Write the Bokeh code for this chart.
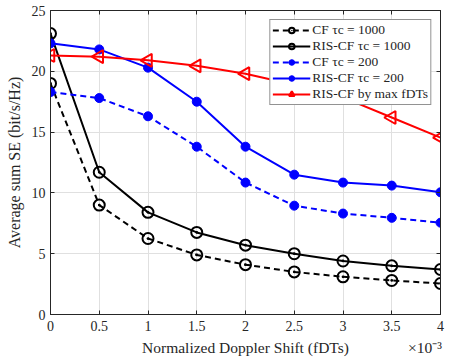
import math
from bokeh.plotting import figure
from bokeh.models import Legend, LegendItem, LinearAxis, FixedTicker, Range1d, CustomJSTickFormatter
from bokeh.embed import file_html
from bokeh.resources import INLINE

x = [0, 0.5, 1, 1.5, 2, 2.5, 3, 3.5, 4]
cf_1000 = [19.0, 9.0, 6.25, 4.9, 4.1, 3.5, 3.1, 2.8, 2.55]
ris_1000 = [23.1, 11.7, 8.4, 6.75, 5.7, 5.0, 4.4, 4.0, 3.7]
cf_200 = [18.3, 17.8, 16.3, 13.8, 10.85, 8.95, 8.3, 7.95, 7.55]
ris_200 = [22.3, 21.8, 20.3, 17.5, 13.8, 11.5, 10.85, 10.6, 10.05]
ris_max = [21.3, 21.2, 20.9, 20.45, 19.8, 18.9, 17.85, 16.2, 14.55]
labels = ["CF τc = 1000", "RIS-CF τc = 1000", "CF τc = 200", "RIS-CF τc = 200", "RIS-CF by max fDTs"]
y_ticks = [0, 5, 10, 15, 20, 25]
x_title = "Normalized Doppler Shift (fDTs)"
x_scale_note = "×10⁻³"

FONT = "Liberation Serif"
INK = "#262626"

p = figure(width=453, height=360, output_backend="svg", toolbar_location=None,
           x_range=Range1d(0, 4), y_range=Range1d(0, 25),
           min_border_left=50, min_border_right=13, min_border_top=10, min_border_bottom=46)
p.outline_line_color = INK
p.outline_line_width = 1
p.background_fill_color = "white"
p.grid.grid_line_color = "#e0e0e0"
p.grid.grid_line_width = 1
p.xgrid.ticker = FixedTicker(ticks=x)
p.ygrid.ticker = FixedTicker(ticks=y_ticks)
p.xaxis.ticker = FixedTicker(ticks=x)
p.yaxis.ticker = FixedTicker(ticks=y_ticks)
p.xaxis.major_label_overrides = {v: f"{v:g}" for v in x}
for ax in [p.xaxis[0], p.yaxis[0]]:
    ax.major_tick_in = 4
    ax.major_tick_out = 0
    ax.minor_tick_in = 0
    ax.minor_tick_out = 0
    ax.axis_line_color = INK
    ax.major_tick_line_color = INK
    ax.major_label_text_font = FONT
    ax.major_label_text_font_size = "14px"
    ax.major_label_text_color = INK
    ax.axis_label_text_font = FONT
    ax.axis_label_text_font_size = "16px"
    ax.axis_label_text_font_style = "normal"
    ax.axis_label_text_color = INK
p.yaxis.axis_label = "Average sum SE (bit/s/Hz)"
p.yaxis.axis_label_standoff = 6
p.xaxis.major_label_standoff = 6
p.yaxis.major_label_standoff = 5

# second row under the x axis: axis title (centred) and the ×10⁻³ note (right) on one line
note_pos = 3.84
x_text = LinearAxis(ticker=FixedTicker(ticks=[2, note_pos]),
                    major_label_overrides={2: x_title, note_pos: x_scale_note},
                    major_label_standoff=5, major_tick_in=0, major_tick_out=0,
                    minor_tick_in=0, minor_tick_out=0,
                    axis_line_color=None, major_tick_line_color=None,
                    major_label_text_font=FONT, major_label_text_font_size="15.5px",
                    major_label_text_color=INK)
p.add_layout(x_text, "below")

top = LinearAxis(ticker=FixedTicker(ticks=x), formatter=CustomJSTickFormatter(code="return ''"),
                 major_label_standoff=0,
                 major_tick_in=4, major_tick_out=0, minor_tick_in=0, minor_tick_out=0,
                 axis_line_color=INK, major_tick_line_color=INK)
right = LinearAxis(ticker=FixedTicker(ticks=y_ticks), formatter=CustomJSTickFormatter(code="return ''"),
                   major_label_standoff=0,
                   major_tick_in=4, major_tick_out=0, minor_tick_in=0, minor_tick_out=0,
                   axis_line_color=INK, major_tick_line_color=INK)
p.add_layout(top, "above")
p.add_layout(right, "right")

items = []
r1 = p.line(x, cf_1000, line_color="black", line_width=2, line_dash="6 4")
m1 = p.scatter(x, cf_1000, marker="circle_dot", size=11, fill_color=None, line_color="black", line_width=2)
items.append(LegendItem(label=labels[0], renderers=[r1, m1]))

r2 = p.line(x, ris_1000, line_color="black", line_width=2)
m2 = p.scatter(x, ris_1000, marker="circle_dot", size=11, fill_color=None, line_color="black", line_width=2)
items.append(LegendItem(label=labels[1], renderers=[r2, m2]))

r3 = p.line(x, cf_200, line_color="blue", line_width=2, line_dash="6 4")
m3 = p.scatter(x, cf_200, marker="circle", size=9, fill_color="blue", line_color="blue")
items.append(LegendItem(label=labels[2], renderers=[r3, m3]))

r4 = p.line(x, ris_200, line_color="blue", line_width=2)
m4 = p.scatter(x, ris_200, marker="circle", size=9, fill_color="blue", line_color="blue")
items.append(LegendItem(label=labels[3], renderers=[r4, m4]))

r5 = p.line(x, ris_max, line_color="red", line_width=2)
m5 = p.scatter(x, ris_max, marker="triangle", angle=math.pi / 2, size=13, fill_color=None,
               line_color="red", line_width=2)
items.append(LegendItem(label=labels[4], renderers=[r5, m5]))

legend = Legend(items=items, location="top_right", label_text_font=FONT, label_text_font_size="13.5px",
                label_text_color=INK,
                glyph_width=38, glyph_height=14, spacing=0, padding=2, margin=9,
                label_standoff=2, label_height=14,
                border_line_color=INK, border_line_width=1, background_fill_alpha=1)
p.add_layout(legend)

open("out.html", "w").write(file_html(p, INLINE))
